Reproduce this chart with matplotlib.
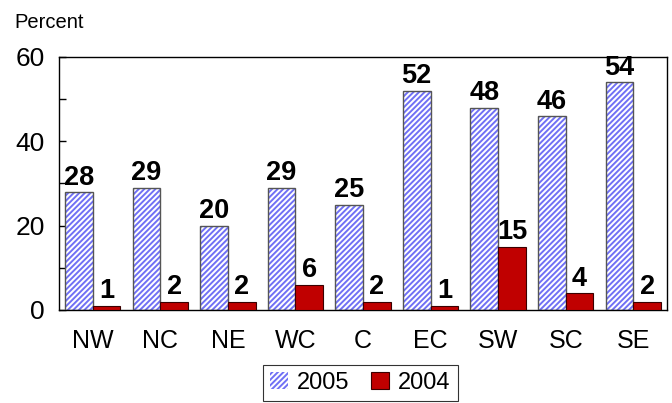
import matplotlib
matplotlib.use("Agg")
import matplotlib.pyplot as plt
from matplotlib.patches import Patch
import numpy as np

plt.rcParams['font.family'] = ['Liberation Sans', 'DejaVu Sans']
plt.rcParams['hatch.linewidth'] = 1.4

categories = ["NW", "NC", "NE", "WC", "C", "EC", "SW", "SC", "SE"]
values_2005 = [28, 29, 20, 29, 25, 52, 48, 46, 54]
values_2004 = [1, 2, 2, 6, 2, 1, 15, 4, 2]
yticks = [0, 20, 40, 60]

fig = plt.figure(figsize=(6.72, 4.03), dpi=100)
ax = fig.add_axes([0.0878, 0.2308, 0.9048, 0.6278])

x = np.arange(len(categories))
w = 0.41
hatch_blue = '#7070f5'
ax.bar(x - w/2, values_2005, w, color='white', edgecolor=hatch_blue, hatch='//////', linewidth=0, zorder=2)
ax.bar(x - w/2, values_2005, w, fill=False, edgecolor='#555555', linewidth=1.0, zorder=3)
ax.bar(x + w/2, values_2004, w, color='#c00000', edgecolor='#3a0000', linewidth=0.8, zorder=3)

for xi, v in zip(x - w/2, values_2005):
    ax.annotate(str(v), (xi, v), xytext=(0, 1), textcoords='offset points',
                ha='center', va='bottom', fontsize=19.5, fontweight='bold')
for xi, v in zip(x + w/2, values_2004):
    ax.annotate(str(v), (xi, v), xytext=(0, 1), textcoords='offset points',
                ha='center', va='bottom', fontsize=19.5, fontweight='bold')

ax.set_xlim(-0.5, len(categories) - 0.5)
ax.set_ylim(0, 60)
ax.set_yticks(yticks)
ax.set_yticks(np.arange(0, 61, 10), minor=True)
ax.tick_params(axis='y', which='both', direction='in', length=5, width=1, labelsize=19, pad=10)
ax.set_xticks(x)
ax.set_xticklabels(categories)
ax.tick_params(axis='x', length=0, labelsize=18, pad=14)
for s in ax.spines.values():
    s.set_linewidth(1.0)
    s.set_color('black')

fig.text(0.021, 0.943, "Percent", fontsize=14.5, ha='left', va='center')

handles = [Patch(facecolor='white', edgecolor=hatch_blue, hatch='//////', linewidth=0),
           Patch(facecolor='#c00000', edgecolor='#3a0000', linewidth=0.8)]
leg = fig.legend(handles, ['2005', '2004'], loc='center', bbox_to_anchor=(0.536, 0.05),
                 ncol=2, fontsize=17, frameon=True, fancybox=False, edgecolor='black',
                 handlelength=0.75, handleheight=0.75, handletextpad=0.4, columnspacing=0.9,
                 borderpad=0.3)
leg.get_frame().set_linewidth(0.8)

fig.savefig("out.png", dpi=100)
